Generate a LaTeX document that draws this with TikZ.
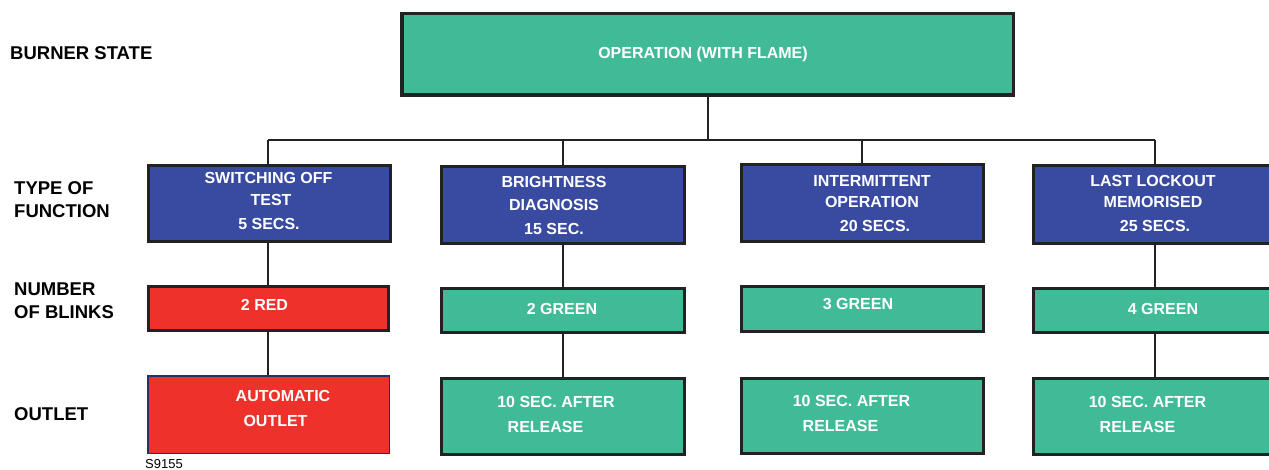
\documentclass[tikz,border=0pt]{standalone}
\usepackage{fontspec}
\setmainfont{Liberation Sans}
\definecolor{bgreen}{RGB}{65,187,151}
\definecolor{bblue}{RGB}{56,75,160}
\definecolor{bred}{RGB}{238,49,43}
\definecolor{bline}{RGB}{34,34,34}
\definecolor{bnavy}{RGB}{40,45,110}
\tikzset{
  box/.style={draw=bline, line width=3pt, inner sep=0pt, rectangle},
  greenbox/.style={box, fill=bgreen},
  bluebox/.style={box, fill=bblue},
  redbox/.style={box, fill=bred},
  conn/.style={draw=bline, line width=1.5pt},
  txt/.style={text=white, font=\fontsize{16}{19}\selectfont\bfseries, inner sep=0pt, anchor=base},
  side/.style={text=black, font=\fontsize{18.5}{22}\selectfont\bfseries, inner sep=0pt, anchor=base west},
}
\begin{document}
\begin{tikzpicture}[x=1pt,y=-1pt]
\useasboundingbox (0,0) rectangle (1269,470);
% side labels
\node[side] (lBurner) at (10,59.6) {BURNER STATE};
\node[side] (lType1) at (14,194.6) {TYPE OF};
\node[side] (lType2) at (14,217.6) {FUNCTION};
\node[side] (lNum1) at (14,295.6) {NUMBER};
\node[side] (lNum2) at (14,318.6) {OF BLINKS};
\node[side] (lOut) at (14,420.6) {OUTLET};
\node[anchor=base west, inner sep=0pt, font=\fontsize{13}{15}\selectfont] (code) at (145,468.8) {S9155};
% top box
\node[greenbox, line width=3.5pt, minimum width=611.5pt, minimum height=81.5pt] (top) at (707.5,54.5) {};
\node[txt] (tTop) at (703,58.7) {OPERATION (WITH FLAME)};
% row 2
\node[bluebox, minimum width=242pt, minimum height=76pt] (f1) at (269.5,203.5) {};
\node[bluebox, minimum width=243pt, minimum height=77pt] (f2) at (563,205) {};
\node[bluebox, minimum width=242pt, minimum height=77pt] (f3) at (862.5,203) {};
\node[bluebox, minimum width=245pt, minimum height=78pt] (f4) at (1156,204.5) {};
\node[txt] (f1a) at (268.5,183.7) {SWITCHING OFF};
\node[txt] (f1b) at (271,205.7) {TEST};
\node[txt] (f1c) at (269,229.7) {5 SECS.};
\node[txt] (f2a) at (554,187.7) {BRIGHTNESS};
\node[txt] (f2b) at (554,210.7) {DIAGNOSIS};
\node[txt] (f2c) at (554,234.7) {15 SEC.};
\node[txt] (f3a) at (872,186.7) {INTERMITTENT};
\node[txt] (f3b) at (872,207.7) {OPERATION};
\node[txt] (f3c) at (875,231.7) {20 SECS.};
\node[txt] (f4a) at (1153,186.7) {LAST LOCKOUT};
\node[txt] (f4b) at (1153,207.7) {MEMORISED};
\node[txt] (f4c) at (1155,231.7) {25 SECS.};
% row 3
\node[redbox, minimum width=240pt, minimum height=44pt] (n1) at (268.5,308.5) {};
\node[greenbox, minimum width=243pt, minimum height=44pt] (n2) at (563,310.5) {};
\node[greenbox, minimum width=242pt, minimum height=45pt] (n3) at (862.5,309) {};
\node[greenbox, minimum width=245pt, minimum height=44pt] (n4) at (1156,310.5) {};
\node[txt] (n1t) at (264.5,310.7) {2 RED};
\node[txt] (n2t) at (562,314.7) {2 GREEN};
\node[txt] (n3t) at (858,309.7) {3 GREEN};
\node[txt] (n4t) at (1163,314.7) {4 GREEN};
% row 4
\node[redbox, draw=bnavy, line width=1.5pt, minimum width=241.5pt, minimum height=77.5pt] (o1) at (268.5,414.5) {};
\node[greenbox, minimum width=243pt, minimum height=76pt] (o2) at (563,416.5) {};
\node[greenbox, minimum width=242pt, minimum height=75pt] (o3) at (862.5,416) {};
\node[greenbox, minimum width=245pt, minimum height=76pt] (o4) at (1156,416.5) {};
\node[txt] (o1a) at (283,401.7) {AUTOMATIC};
\node[txt] (o1b) at (275.5,426.7) {OUTLET};
\node[txt] (o2a) at (556,407.7) {10 SEC. AFTER};
\node[txt] (o2b) at (545.5,432.7) {RELEASE};
\node[txt] (o3a) at (851.5,406.7) {10 SEC. AFTER};
\node[txt] (o3b) at (840.5,431.7) {RELEASE};
\node[txt] (o4a) at (1147.5,407.7) {10 SEC. AFTER};
\node[txt] (o4b) at (1137.5,432.7) {RELEASE};
% connectors
\coordinate (bus) at (708,140);
\coordinate (busL) at (268,140);
\coordinate (bus3) at (862,140);
\coordinate (busR) at (1155,140);
\draw[conn] (top.south -| bus) -- (bus);
\draw[conn] (busL) -- (busR);
\draw[conn] (busL) -- (busL |- f1.north);
\draw[conn] (f2.north) -- (f2.north |- bus);
\draw[conn] (bus3) -- (bus3 |- f3.north);
\draw[conn] (busR) -- (busR |- f4.north);
\draw[conn] (f1.south -| busL) -- (busL |- n1.north);
\draw[conn] (n1.south -| busL) -- (busL |- o1.north);
\draw[conn] (f2.south) -- (n2.north);
\draw[conn] (n2.south) -- (o2.north);
\draw[conn] (f4.south -| busR) -- (busR |- n4.north);
\draw[conn] (n4.south -| busR) -- (busR |- o4.north);
\end{tikzpicture}
\end{document}
